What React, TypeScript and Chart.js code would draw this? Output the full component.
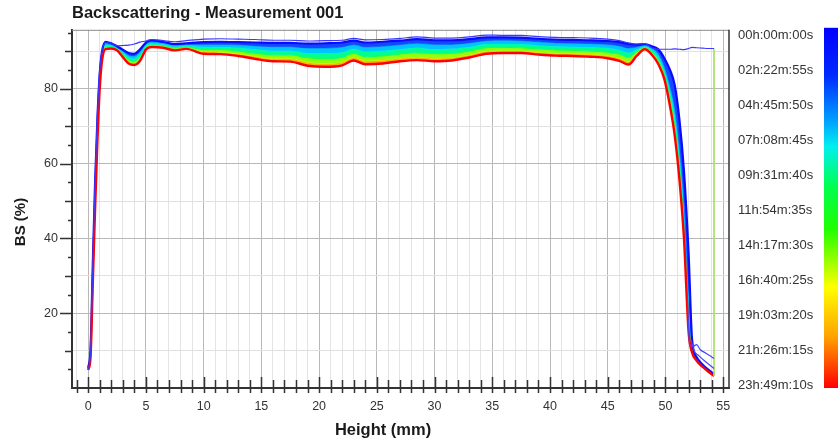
import React, { useEffect, useRef } from "react";
import { Chart, registerables } from "chart.js";

Chart.register(...registerables);

const FONT = "'Liberation Sans', Arial, Helvetica, sans-serif";

const TITLE = "Backscattering - Measurement 001";
const X_TITLE = "Height (mm)";
const Y_TITLE = "BS (%)";
const TIME_LABELS = [
  "00h:00m:00s", "02h:22m:55s", "04h:45m:50s", "07h:08m:45s", "09h:31m:40s", "11h:54m:35s",
  "14h:17m:30s", "16h:40m:25s", "19h:03m:20s", "21h:26m:15s", "23h:49m:10s",
];

// Height positions (mm) shared by the scan curves
const HEIGHTS = [0, 0.2, 0.4, 0.6, 0.8, 1.0, 1.2, 1.5, 2.0, 2.5, 3.0, 3.5, 4.0, 4.5, 5.0, 5.5, 6.5, 7.5, 8.5, 10, 11.5, 13, 14.5, 16, 17.5, 19, 20.5, 22, 23, 24, 25.5, 27, 28.5, 30, 31.5, 33, 34.5, 36, 37.5, 39, 40.5, 42, 43.5, 45, 46, 46.8, 47.5, 48.2, 48.8, 49.4, 49.9, 50.4, 50.8, 51.2, 51.6, 52.0, 52.3, 52.7, 53.2, 53.7, 54.2];

// First scan (thin blue line)
const BS_T0 = [5.0, 9, 33, 56, 73, 85, 90, 92.4, 92.2, 91.5, 91.6, 91.7, 92.0, 92.5, 92.8, 93.2, 92.9, 92.6, 92.9, 93.3, 93.4, 93.3, 93.2, 93.0, 93.0, 92.8, 92.9, 93.0, 93.5, 93.1, 93.2, 93.5, 93.9, 93.6, 93.6, 93.9, 94.4, 94.3, 94.3, 94.0, 93.8, 93.7, 93.6, 93.3, 92.9, 92.3, 92.0, 92.1, 91.0, 90.6, 90.6, 90.6, 90.7, 90.6, 90.5, 90.8, 91.1, 91.0, 90.9, 90.8, 90.8];

// Band of scans, from early (blue) to last (red)
const BS_C1 = [5.4, 10, 33, 55, 72, 84, 90, 92.6, 92.2, 91.4, 90.5, 89.6, 89.4, 90.6, 92.4, 93.0, 92.6, 92.0, 92.2, 92.5, 92.6, 92.5, 92.4, 92.3, 92.3, 92.1, 92.2, 92.4, 92.9, 92.4, 92.6, 92.9, 93.3, 93.0, 93.0, 93.3, 93.8, 93.8, 93.7, 93.4, 93.2, 93.1, 93.0, 92.8, 92.5, 92.0, 91.8, 92.0, 91.4, 90.5, 88.2, 85.0, 81.0, 72.0, 58.0, 36.0, 13.0, 8.2, 6.3, 4.9, 3.7];
const BS_C2 = [5.3, 9.6, 32, 53.6, 70.8, 83.2, 89.5, 92.2, 91.9, 91.2, 90.1, 89.0, 88.8, 90.0, 92.0, 92.6, 92.3, 91.7, 91.9, 91.9, 91.9, 91.8, 91.5, 91.3, 91.3, 90.9, 90.9, 91.2, 91.8, 91.2, 91.4, 91.8, 92.2, 91.9, 91.9, 92.3, 92.9, 93.0, 92.9, 92.6, 92.3, 92.2, 92.1, 91.9, 91.5, 90.9, 91.2, 91.7, 91.0, 89.3, 86.0, 80.6, 74.9, 64.8, 49.9, 26.5, 11.6, 7.9, 6.1, 4.8, 3.6];
const BS_C3 = [5.1, 9.2, 30.9, 52.1, 69.5, 82.3, 89.0, 91.8, 91.6, 90.9, 89.7, 88.4, 88.1, 89.3, 91.6, 92.2, 91.9, 91.3, 91.6, 91.2, 91.2, 91.0, 90.6, 90.2, 90.2, 89.6, 89.6, 89.8, 90.7, 90.0, 90.2, 90.6, 91.0, 90.6, 90.7, 91.2, 92.0, 92.0, 92.0, 91.6, 91.4, 91.3, 91.2, 90.9, 90.4, 89.7, 90.5, 91.4, 90.5, 88.4, 84.9, 79.1, 72.9, 62.4, 47.2, 23.4, 11.0, 7.7, 6.0, 4.7, 3.5];
const BS_C4 = [5.0, 8.7, 29.8, 50.5, 68.1, 81.4, 88.4, 91.3, 91.3, 90.7, 89.2, 87.8, 87.4, 88.6, 91.2, 91.8, 91.6, 90.9, 91.2, 90.5, 90.5, 90.1, 89.5, 89.1, 89.1, 88.3, 88.1, 88.4, 89.5, 88.6, 88.8, 89.3, 89.7, 89.4, 89.5, 90.1, 91.0, 91.1, 91.0, 90.7, 90.4, 90.3, 90.1, 89.8, 89.3, 88.4, 89.9, 91.1, 90.0, 87.6, 84.0, 77.7, 70.9, 60.0, 44.5, 20.3, 10.4, 7.5, 5.9, 4.6, 3.4];
const BS_C5 = [4.9, 8.3, 28.8, 49.1, 66.9, 80.6, 87.9, 90.9, 91.0, 90.5, 88.8, 87.2, 86.9, 87.9, 90.8, 91.5, 91.2, 90.6, 90.9, 89.9, 89.8, 89.4, 88.7, 88.1, 88.1, 87.1, 86.8, 87.2, 88.4, 87.5, 87.7, 88.2, 88.5, 88.2, 88.4, 89.1, 90.1, 90.2, 90.2, 89.8, 89.5, 89.4, 89.3, 88.9, 88.3, 87.3, 89.3, 90.8, 89.5, 87.1, 83.3, 76.4, 69.1, 57.9, 42.2, 17.5, 9.9, 7.4, 5.8, 4.5, 3.3];
const BS_C6 = [4.8, 8, 28, 48, 66, 80, 87.5, 90.6, 90.8, 90.3, 88.5, 86.8, 86.4, 87.5, 90.5, 91.2, 91.0, 90.3, 90.7, 89.4, 89.3, 88.8, 88.0, 87.4, 87.3, 86.2, 85.9, 86.3, 87.6, 86.6, 86.8, 87.4, 87.7, 87.4, 87.6, 88.4, 89.4, 89.6, 89.6, 89.2, 88.9, 88.8, 88.6, 88.2, 87.5, 86.5, 88.8, 90.6, 89.2, 86.5, 82.6, 75.2, 67.5, 56.0, 40.0, 15.0, 9.5, 7.3, 5.7, 4.4, 3.2];

// Early scans' tails near the top of the sample
const TAIL_A_X = [51.9, 52.1, 52.4, 52.7, 53.0, 53.5, 54.2];
const TAIL_A_Y = [24, 11.5, 11.2, 11.6, 10.3, 9.3, 7.9];
const TAIL_B_X = [52.2, 52.5, 52.9, 53.4, 53.8, 54.2];
const TAIL_B_Y = [13, 9.8, 8.6, 7.2, 6.2, 5.2];

// Sample height marker
const MARKER_X = [54.2, 54.2];
const MARKER_Y = [90.8, 3.2];

const BAND_LINE = ["#0a0aff", "#0090ff", "#00f0d0", "#20ff30", "#f0e800", "#ff0000"];
const BAND_FILL = ["#1448ff", "#00c4ff", "#00ff90", "#90ff10", "#ffb000", "#ff0000"];

const pts = (xs: number[], ys: number[]) => xs.map((x, i) => ({ x, y: ys[i] }));

const framePlugin = {
  id: "frameTicks",
  afterDraw(chart: any) {
    const { ctx, chartArea: a, scales } = chart;
    const x = scales.x;
    const y = scales.y;
    ctx.save();
    ctx.strokeStyle = "#8a8a8a";
    ctx.lineWidth = 1;
    ctx.beginPath();
    ctx.moveTo(a.left, a.top + 0.5);
    ctx.lineTo(a.right, a.top + 0.5);
    ctx.stroke();
    ctx.strokeStyle = "#333";
    ctx.lineWidth = 1.5;
    ctx.beginPath();
    ctx.moveTo(a.right, a.top);
    ctx.lineTo(a.right, a.bottom);
    ctx.stroke();
    ctx.strokeStyle = "#333";
    ctx.lineWidth = 1.5;
    ctx.beginPath();
    for (let v = -1; v <= 55; v++) {
      const px = Math.round(x.getPixelForValue(v)) + 0.5;
      const major = v % 5 === 0;
      ctx.moveTo(px, a.bottom - (major ? 11 : 8));
      ctx.lineTo(px, a.bottom + 5);
    }
    for (let v = 5; v <= 95; v += 5) {
      const py = Math.round(y.getPixelForValue(v)) + 0.5;
      const len = v % 20 === 0 ? 12 : v % 10 === 0 ? 7 : 4;
      ctx.moveTo(a.left - len, py);
      ctx.lineTo(a.left, py);
    }
    ctx.stroke();

    ctx.fillStyle = "#1a1a1a";
    ctx.font = `bold 16.5px ${FONT}`;
    ctx.textAlign = "center";
    ctx.textBaseline = "middle";
    ctx.fillText(X_TITLE, 383, 430);
    ctx.save();
    ctx.translate(21, 222);
    ctx.rotate(-Math.PI / 2);
    ctx.font = `bold 15px ${FONT}`;
    ctx.fillText(Y_TITLE, 0, 0);
    ctx.restore();

    const top = a.top - 2;
    const bottom = a.bottom;
    const g = ctx.createLinearGradient(0, top, 0, bottom);
    g.addColorStop(0, "#0000ff");
    g.addColorStop(0.13, "#0028ff");
    g.addColorStop(0.25, "#0098ff");
    g.addColorStop(0.33, "#00f0f0");
    g.addColorStop(0.44, "#00ff50");
    g.addColorStop(0.56, "#20ff00");
    g.addColorStop(0.72, "#ffff00");
    g.addColorStop(0.86, "#ffa000");
    g.addColorStop(1, "#ff0000");
    ctx.fillStyle = g;
    ctx.fillRect(824, top, 20, bottom - top);
    ctx.fillStyle = "#333";
    ctx.font = `13px ${FONT}`;
    ctx.textAlign = "left";
    ctx.textBaseline = "middle";
    TIME_LABELS.forEach((t, i) => {
      ctx.fillText(t, 738, 35 + i * 35);
    });
    ctx.restore();
  },
};

export default function App() {
  const ref = useRef<HTMLCanvasElement | null>(null);
  useEffect(() => {
    if (!ref.current) return;
    const bands = [BS_C1, BS_C2, BS_C3, BS_C4, BS_C5, BS_C6];
    const bandSets = bands.map((arr, i) => ({
      label: `scan ${i + 1}`,
      data: pts(HEIGHTS, arr),
      borderColor: BAND_LINE[i],
      backgroundColor: BAND_FILL[i],
      borderWidth: i === 0 ? 2.2 : i === 5 ? 2.4 : 1,
      fill: i < 5 ? "+1" : false,
      order: i === 5 ? 3 : 4 + i,
    }));
    const chart = new Chart(ref.current, {
      type: "line",
      data: {
        datasets: [
          { label: "t0", data: pts(HEIGHTS, BS_T0), borderColor: "#3838ff", borderWidth: 1.2, fill: false, order: 0 },
          { label: "tailA", data: pts(TAIL_A_X, TAIL_A_Y), borderColor: "#4646ff", borderWidth: 1.2, fill: false, order: 1 },
          { label: "tailB", data: pts(TAIL_B_X, TAIL_B_Y), borderColor: "#4646ff", borderWidth: 1.2, fill: false, order: 1 },
          { label: "marker", data: pts(MARKER_X, MARKER_Y), borderColor: "#9ee25c", borderWidth: 1.6, fill: false, order: 2 },
          ...bandSets,
        ] as any,
      },
      options: {
        responsive: false,
        animation: false,
        events: [],
        elements: {
          point: { radius: 0 },
          line: { tension: 0.3, cubicInterpolationMode: "monotone" },
        },
        layout: { padding: { left: 0, right: 109, top: 0, bottom: 0 } },
        plugins: {
          legend: { display: false },
          tooltip: { enabled: false },
          title: {
            display: true,
            text: TITLE,
            align: "start",
            fullSize: false,
            color: "#1a1a1a",
            font: { family: FONT, size: 16.5, weight: "bold" },
            padding: { top: 4, bottom: 6 },
          },
        },
        scales: {
          x: {
            type: "linear",
            min: -1.4,
            max: 55.5,
            afterFit: (s: any) => { s.height = 53; },
            border: { display: true, color: "#333", width: 2 },
            grid: {
              drawTicks: false,
              color: (c: any) => (c.tick && Math.round(c.tick.value) % 5 === 0 ? "#b8b8b8" : "#e4e4e4"),
              lineWidth: 1,
            },
            ticks: {
              stepSize: 1,
              autoSkip: false,
              includeBounds: false,
              maxRotation: 0,
              padding: 11,
              color: "#333",
              font: { family: FONT, size: 12.5 },
              callback: (v: any) => (Number(v) >= 0 && Number(v) % 5 === 0 ? String(v) : ""),
            },
          },
          y: {
            type: "linear",
            min: 0,
            max: 95.8,
            afterFit: (s: any) => { s.width = 72; },
            border: { display: true, color: "#333", width: 2 },
            grid: {
              drawTicks: false,
              color: (c: any) => {
                const v = c.tick ? Math.round(c.tick.value) : 1;
                if (v === 0) return "rgba(0,0,0,0)";
                if (v % 20 === 0) return "#b8b8b8";
                if (v % 10 === 0) return "#e0e0e0";
                return "rgba(0,0,0,0)";
              },
            },
            ticks: {
              stepSize: 5,
              autoSkip: false,
              includeBounds: false,
              padding: 14,
              color: "#333",
              font: { family: FONT, size: 12.5 },
              callback: (v: any) => (Number(v) > 0 && Number(v) % 20 === 0 ? String(v) : ""),
            },
          },
        },
      },
      plugins: [framePlugin],
    } as any);
    return () => chart.destroy();
  }, []);
  return (
    <div style={{ position: "fixed", left: 0, top: 0, width: 838, height: 441, background: "#fff" }}>
      <canvas ref={ref} width={838} height={441} style={{ display: "block", width: 838, height: 441 }} />
    </div>
  );
}
